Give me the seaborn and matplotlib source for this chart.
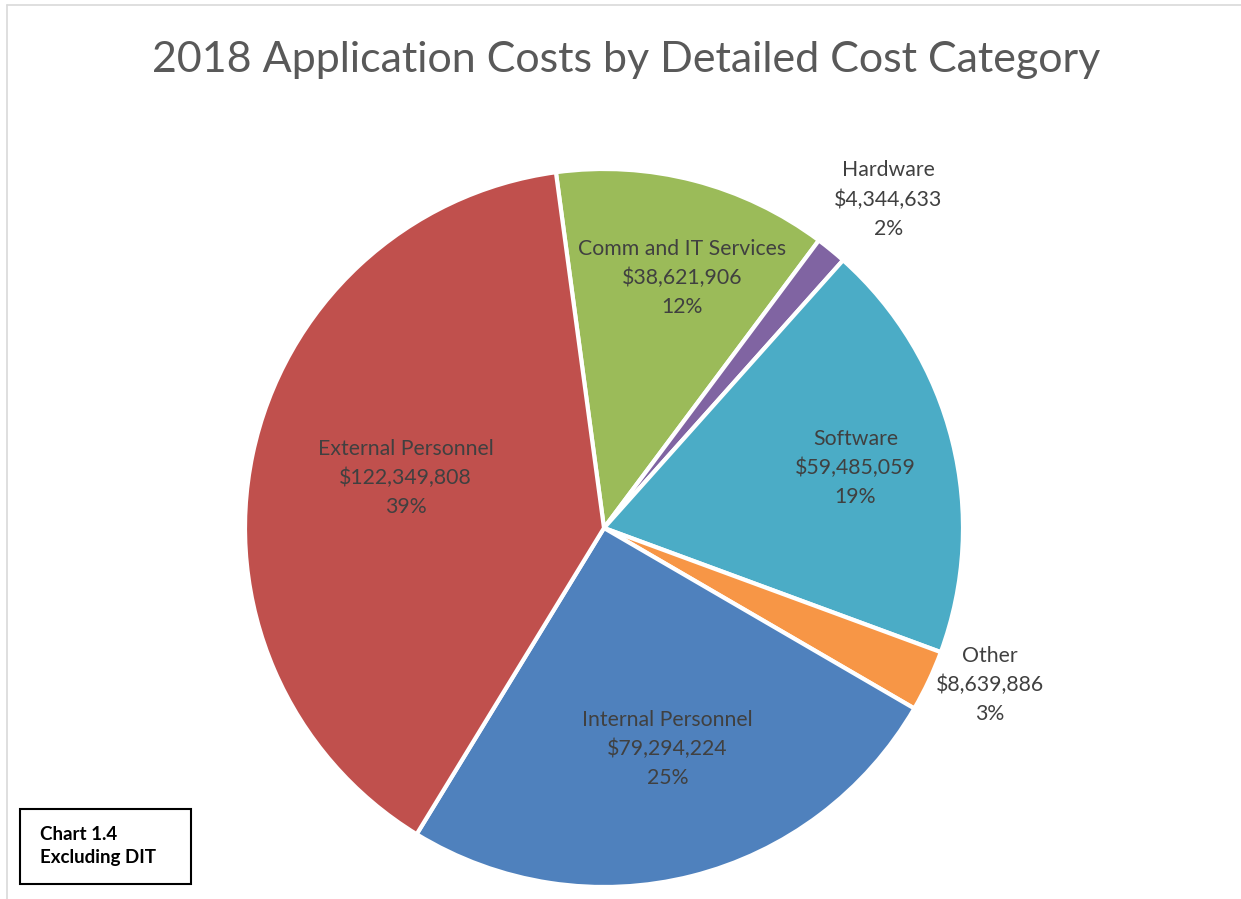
import numpy as np
import matplotlib
matplotlib.use("Agg")
import matplotlib.pyplot as plt
import seaborn as sns
from matplotlib.lines import Line2D
from matplotlib.patches import Rectangle

sns.set_theme(style="white")
plt.rcParams['font.family'] = ['Lato', 'DejaVu Sans']

# Data (clockwise order as drawn)
categories = ["Comm and IT Services", "Hardware", "Software", "Other",
              "Internal Personnel", "External Personnel"]
values = [38621906, 4344633, 59485059, 8639886, 79294224, 122349808]
percent_labels = ["12%", "2%", "19%", "3%", "25%", "39%"]
colors = ["#9BBB59", "#8064A2", "#4BACC6", "#F79646", "#4F81BD", "#C0504D"]
label_dist = [0.73, 1.21, 0.72, 1.16, 0.64, 0.57]
label_shift = [2.8, 1.6, 0.6, -3.1, -1.9, 2.2]  # degrees, clockwise

W, H = 1241, 899
fig = plt.figure(figsize=(W / 100, H / 100), dpi=100)

cx, cy, R = 604, 528, 359
ax = fig.add_axes([(cx - R) / W, (H - cy - R) / H, 2 * R / W, 2 * R / H])
wedges, _ = ax.pie(values, colors=colors, startangle=97.7, counterclock=False,
                   radius=1, wedgeprops=dict(edgecolor="white", linewidth=3))
ax.set_xlim(-1, 1)
ax.set_ylim(-1, 1)
ax.set_aspect("equal")
ax.axis("off")

for w, cat, v, p, d, s in zip(wedges, categories, values, percent_labels,
                              label_dist, label_shift):
    ang = np.deg2rad((w.theta1 + w.theta2) / 2 - s)
    x, y = d * np.cos(ang), d * np.sin(ang)
    ax.text(x, y, f"{cat}\n${v:,}\n{p}", ha="center", va="center",
            fontsize=15.3, color="#404040", linespacing=1.55, clip_on=False)

fig.text(626.5 / W, 1 - 72 / H, "2018 Application Costs by Detailed Cost Category",
         ha="center", va="baseline", fontsize=31, color="#595959")

# outer chart border
fig.add_artist(Line2D([7 / W, 1], [1 - 5 / H, 1 - 5 / H], transform=fig.transFigure,
                      color="#D9D9D9", linewidth=1.2))
fig.add_artist(Line2D([7 / W, 7 / W], [0, 1 - 5 / H], transform=fig.transFigure,
                      color="#D9D9D9", linewidth=1.2))

# annotation box
fig.add_artist(Rectangle((20 / W, 1 - 884 / H), 171 / W, 75 / H, transform=fig.transFigure,
                         fill=False, edgecolor="black", linewidth=1.5))
fig.text(40 / W, 1 - 846 / H, "Chart 1.4\nExcluding DIT", ha="left", va="center",
         fontsize=13.5, fontweight="bold", color="black", linespacing=1.4)

fig.savefig("out.png", dpi=100, facecolor="white")
